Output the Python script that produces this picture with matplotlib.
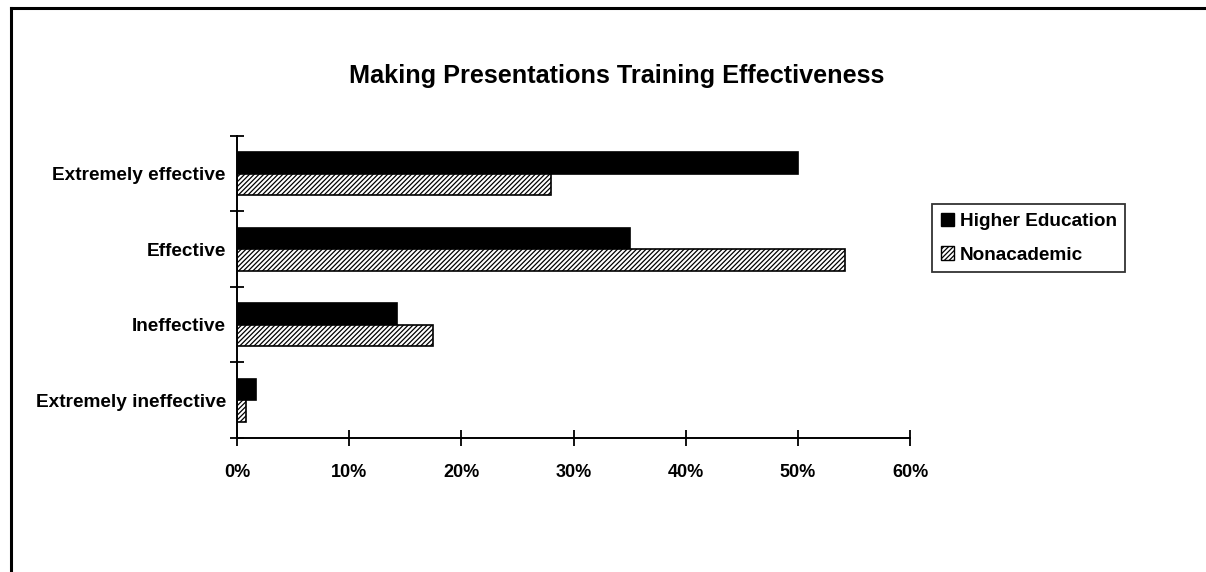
import matplotlib
matplotlib.use("Agg")
import matplotlib.pyplot as plt
import numpy as np
from matplotlib.lines import Line2D
from matplotlib.patches import Patch

plt.rcParams['font.family'] = ['Liberation Sans', 'DejaVu Sans']
plt.rcParams['hatch.linewidth'] = 0.9

categories = ["Extremely effective", "Effective", "Ineffective", "Extremely ineffective"]
higher_education = [50.0, 35.0, 14.3, 1.7]
nonacademic = [28.0, 54.2, 17.5, 0.8]
series_names = ["Higher Education", "Nonacademic"]
x_ticks = [0, 10, 20, 30, 40, 50, 60]
x_tick_labels = ["0%", "10%", "20%", "30%", "40%", "50%", "60%"]
title = "Making Presentations Training Effectiveness"

fig = plt.figure(figsize=(12.06, 5.72), dpi=100, facecolor="white")
ax = fig.add_axes([0.1965, 0.2343, 0.5581, 0.5280])

y = np.arange(len(categories))
bar_h = 0.2857
ax.barh(y - bar_h / 2, higher_education, height=bar_h, color="black",
        edgecolor="black", linewidth=1.2)
ax.barh(y + bar_h / 2, nonacademic, height=bar_h, color="white",
        edgecolor="black", hatch="///////", linewidth=1.2)

ax.set_xlim(0, 60)
ax.set_ylim(len(categories) - 0.5, -0.5)

# x axis: ticks crossing the axis line
ax.set_xticks(x_ticks)
ax.set_xticklabels(x_tick_labels, fontsize=13, fontweight="bold")
ax.tick_params(axis="x", direction="inout", length=12, width=1.3, pad=13)

# y axis: tick marks at category boundaries, labels at centres
ax.set_yticks(np.arange(len(categories) + 1) - 0.5)
ax.set_yticklabels([])
ax.tick_params(axis="y", which="major", direction="inout", length=10, width=1.3)
ax.set_yticks(y, minor=True)
ax.set_yticklabels(categories, minor=True, fontsize=13.7, fontweight="bold")
ax.tick_params(axis="y", which="minor", length=0, pad=8)

for side in ("top", "right"):
    ax.spines[side].set_visible(False)
for side in ("left", "bottom"):
    ax.spines[side].set_linewidth(1.4)

fig.text(0.5116, 0.867, title, ha="center", va="center",
         fontsize=18.2, fontweight="bold")

handles = [Patch(facecolor="black", edgecolor="black"),
           Patch(facecolor="white", edgecolor="black", hatch="///////")]
leg = fig.legend(handles, series_names, loc="upper left",
                 bbox_to_anchor=(0.7728, 0.6434), borderaxespad=0,
                 frameon=True, fancybox=False, shadow=False,
                 handlelength=0.7, handleheight=0.7, handletextpad=0.3,
                 borderpad=0.45, labelspacing=0.87,
                 prop={"size": 13.7, "weight": "bold"})
leg.get_frame().set_edgecolor("black")
leg.get_frame().set_linewidth(1.3)

# outer chart border (top and left edges)
fig.add_artist(Line2D([0.009, 1.0], [0.986, 0.986], transform=fig.transFigure,
                      color="black", linewidth=2.2))
fig.add_artist(Line2D([0.0095, 0.0095], [0.0, 0.986], transform=fig.transFigure,
                      color="black", linewidth=2.2))

fig.savefig("out.png", dpi=100, facecolor="white")
